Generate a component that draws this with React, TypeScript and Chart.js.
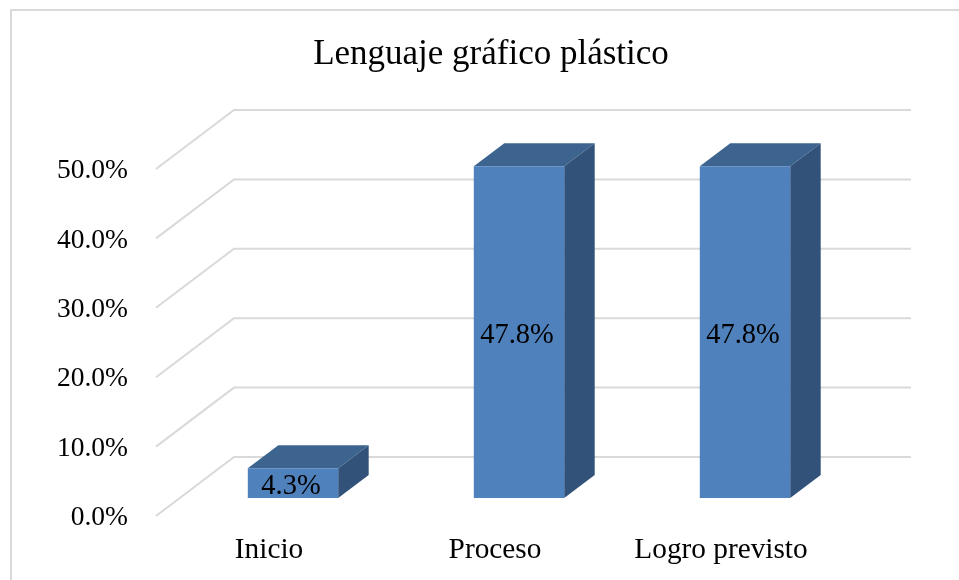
import React, { useEffect, useRef } from "react";
import { Chart, registerables } from "chart.js";

Chart.register(...registerables);

const titleText = "Lenguaje gráfico plástico";
const categories = ["Inicio", "Proceso", "Logro previsto"];
const seriesValues = [4.3, 47.8, 47.8];
const valueLabels = ["4.3%", "47.8%", "47.8%"];

const FONT = '"Liberation Serif", "Times New Roman", serif';
const GRID = "#d9d9d9";
const FRONT = "#4f81bd";
const TOP = "#3d648f";
const SIDE = "#325279";
const DEPTH_X = 30.5;
const DEPTH_Y = 23;
const WALL_DX = 54;
const WALL_DY = 41;
const FLOOR_DX = -24;
const FLOOR_DY = 18;
const WALL_RIGHT = 911;

const depthPlugin = {
  id: "depth",
  beforeDatasetsDraw(chart: any) {
    const { ctx, scales } = chart;
    const y = scales.y;
    ctx.save();
    // frame
    ctx.strokeStyle = GRID;
    ctx.lineWidth = 2;
    ctx.beginPath();
    ctx.moveTo(11, 580);
    ctx.lineTo(11, 10);
    ctx.lineTo(959, 10);
    ctx.stroke();
    // walls
    ctx.lineWidth = 2;
    y.ticks.forEach((t: any) => {
      const py = y.getPixelForValue(t.value);
      const x0 = chart.chartArea.left + FLOOR_DX;
      ctx.beginPath();
      ctx.moveTo(x0, py + FLOOR_DY);
      ctx.lineTo(chart.chartArea.left + WALL_DX, py - WALL_DY);
      ctx.lineTo(WALL_RIGHT, py - WALL_DY);
      ctx.stroke();
    });
    // bar depth faces
    chart.getDatasetMeta(0).data.forEach((bar: any) => {
      const p = bar.getProps(["x", "y", "base", "width"], true);
      const l = p.x - p.width / 2;
      const r = p.x + p.width / 2;
      ctx.fillStyle = TOP;
      ctx.beginPath();
      ctx.moveTo(l, p.y);
      ctx.lineTo(l + DEPTH_X, p.y - DEPTH_Y);
      ctx.lineTo(r + DEPTH_X, p.y - DEPTH_Y);
      ctx.lineTo(r, p.y);
      ctx.closePath();
      ctx.fill();
      ctx.fillStyle = SIDE;
      ctx.beginPath();
      ctx.moveTo(r, p.y);
      ctx.lineTo(r + DEPTH_X, p.y - DEPTH_Y);
      ctx.lineTo(r + DEPTH_X, p.base - DEPTH_Y);
      ctx.lineTo(r, p.base);
      ctx.closePath();
      ctx.fill();
    });
    ctx.restore();
  },
  afterDatasetsDraw(chart: any) {
    const { ctx } = chart;
    ctx.save();
    ctx.font = `28.5px ${FONT}`;
    ctx.fillStyle = "#000";
    ctx.textAlign = "center";
    ctx.textBaseline = "middle";
    chart.getDatasetMeta(0).data.forEach((bar: any, i: number) => {
      const p = bar.getProps(["x", "y", "base"], true);
      ctx.fillText(valueLabels[i], p.x - 2, (p.y + p.base) / 2 + 3);
    });
    ctx.restore();
  },
};

export default function App() {
  const ref = useRef<HTMLCanvasElement>(null);
  useEffect(() => {
    document.body.style.margin = "0";
    const chart = new Chart(ref.current as HTMLCanvasElement, {
      type: "bar",
      data: {
        labels: categories,
        datasets: [
          {
            data: seriesValues,
            backgroundColor: FRONT,
            barPercentage: 0.4,
            categoryPercentage: 1,
            yAxisID: "y",
          },
        ],
      },
      plugins: [depthPlugin],
      options: {
        animation: false,
        responsive: false,
        layout: { padding: { left: 55, right: 32, top: 34, bottom: 0 } },
        plugins: {
          legend: { display: false },
          tooltip: { enabled: false },
          title: {
            display: true,
            text: titleText,
            color: "#000",
            font: { family: FONT, size: 35, weight: "normal" },
            padding: { top: 0, bottom: 75 },
          },
        },
        scales: {
          x: {
            grid: { display: false },
            border: { display: false },
            afterFit: (s: any) => {
              s.height = 82;
            },
            ticks: {
              color: "#000",
              labelOffset: -24,
              padding: 27,
              maxRotation: 0,
              font: { family: FONT, size: 29.3 },
            },
          },
          y: {
            min: 0,
            max: 50,
            grid: { display: false },
            border: { display: false },
            afterFit: (s: any) => {
              s.width = 125;
            },
            ticks: {
              color: "#000",
              stepSize: 10,
              labelOffset: 20,
              padding: 44,
              callback: (v: any) => Number(v).toFixed(1) + "%",
              font: { family: FONT, size: 27.5 },
            },
          },
          rightSpace: {
            type: "linear",
            position: "right",
            grid: { display: false },
            border: { display: false },
            ticks: { display: false },
            afterFit: (s: any) => {
              s.width = 69;
            },
          },
        },
      },
    } as any);
    return () => chart.destroy();
  }, []);
  return <canvas ref={ref} width={959} height={580} style={{ display: "block" }} />;
}
